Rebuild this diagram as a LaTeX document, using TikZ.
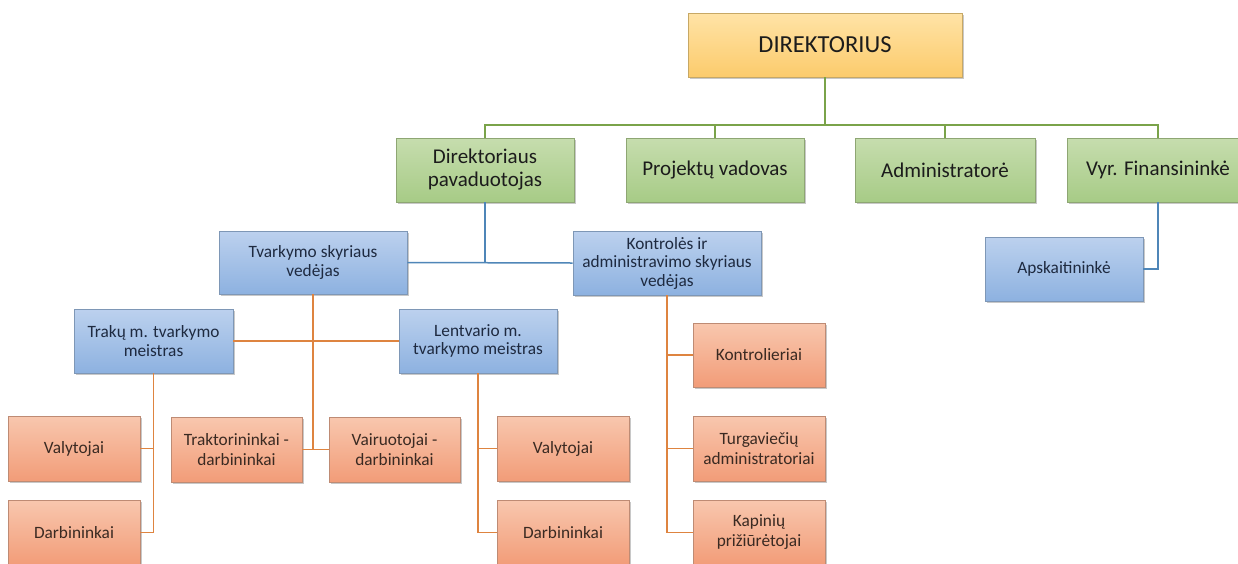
\documentclass[tikz,border=0pt]{standalone}
\usepackage{fontspec}
\setmainfont{Carlito}
\usetikzlibrary{shadows}
\definecolor{gline}{HTML}{7AA34A}
\definecolor{bline}{HTML}{4F86B8}
\definecolor{oline}{HTML}{DE8440}
\definecolor{ytop}{HTML}{FFE3A6}
\definecolor{ybot}{HTML}{FCCB6C}
\definecolor{yedge}{HTML}{C7A865}
\definecolor{gtop}{HTML}{C6DDAE}
\definecolor{gbot}{HTML}{A7CB86}
\definecolor{gedge}{HTML}{8EA673}
\definecolor{btop}{HTML}{BCD1EE}
\definecolor{bbot}{HTML}{8DB1E0}
\definecolor{bedge}{HTML}{7E97B6}
\definecolor{otop}{HTML}{F8C7AE}
\definecolor{obot}{HTML}{F29C78}
\definecolor{oedge}{HTML}{BE8B74}
\definecolor{txt}{HTML}{1C1C1C}
\definecolor{otxt}{HTML}{3A2A22}
\definecolor{btxt}{HTML}{1E2A40}
\tikzset{
  box/.style={rectangle, inner sep=2pt, align=center, line width=0.8pt,
    drop shadow={shadow xshift=1.5pt, shadow yshift=-1.5pt, opacity=.3, fill=black!70}},
  ybox/.style={box, draw=yedge, top color=ytop, bottom color=ybot, text=txt,
    font=\fontsize{24.5}{27}\selectfont},
  gbox/.style={box, draw=gedge, top color=gtop, bottom color=gbot, text=txt,
    font=\fontsize{21}{23}\selectfont, minimum height=64pt},
  bbox/.style={box, draw=bedge, top color=btop, bottom color=bbot, text=btxt,
    font=\fontsize{17.3}{18.5}\selectfont, minimum height=64pt},
  obox/.style={box, draw=oedge, top color=otop, bottom color=obot, text=otxt,
    font=\fontsize{17.3}{20}\selectfont, minimum height=65pt, minimum width=132pt},
  gl/.style={draw=gline, line width=1.5pt},
  bl/.style={draw=bline, line width=1.5pt},
  ol/.style={draw=oline, line width=1.5pt},
}
\begin{document}
\begin{tikzpicture}[x=1pt,y=-1pt]
\useasboundingbox (0,0) rectangle (1238,563);
\clip (0,0) rectangle (1238,563);
\fill[white] (0,0) rectangle (1238,563);

% nodes
\node[ybox, minimum width=274pt, minimum height=64pt] (dir) at (825,45) {DIREKTORIUS};
\node[gbox, minimum width=178pt] (dp) at (485,170) {Direktoriaus\\pavaduotojas};
\node[gbox, minimum width=178pt] (pv) at (715,170) {Projektų vadovas};
\node[gbox, minimum width=180pt] (adm) at (945,170) {Administratorė};
\node[gbox, minimum width=182pt] (vf) at (1158,170) {Vyr. Finansininkė};

\node[bbox, minimum width=188pt, minimum height=63pt] (tv) at (313,262.5) {Tvarkymo skyriaus\\vedėjas};
\node[bbox, minimum width=188pt] (kt) at (667,263) {Kontrolės ir\\administravimo skyriaus\\vedėjas};
\node[bbox, minimum width=158pt] (ap) at (1064,269) {Apskaitininkė};
\node[bbox, minimum width=159pt] (tr) at (153.5,341) {Trakų m. tvarkymo\\meistras};
\node[bbox, minimum width=158pt] (le) at (478,341) {Lentvario m.\\tvarkymo meistras};

\node[obox] (v1) at (74,448.5) {Valytojai};
\node[obox] (d1) at (74,532.5) {Darbininkai};
\node[obox, minimum width=131pt] (tk) at (236.5,449.5) {Traktorininkai -\\darbininkai};
\node[obox, minimum width=131pt] (vr) at (394.5,449.5) {Vairuotojai -\\darbininkai};
\node[obox] (v2) at (563,448.5) {Valytojai};
\node[obox] (d2) at (563,532.5) {Darbininkai};
\node[obox, minimum height=64pt] (ko) at (759,355) {Kontrolieriai};
\node[obox] (tu) at (759,448.5) {Turgaviečių\\administratoriai};
\node[obox] (ka) at (759,532.5) {Kapinių\\prižiūrėtojai};

% green connectors
\coordinate (gbus) at (825,125);
\draw[gl] (dir.south) -- (gbus);
\draw[gl] (dp.north) |- (gbus);
\draw[gl] (pv.north) |- (gbus);
\draw[gl] (adm.north) |- (gbus);
\draw[gl] (vf.north) |- (gbus);

% blue connectors
\draw[bl] (dp.south) -- (dp.south |- tv.east);
\draw[bl] (tv.east) -- (kt.west);
\draw[bl] (vf.south) |- (ap.east);

% orange connectors
\draw[ol] (tv.south) -- (tv.south |- tk.east);
\draw[ol] (tk.east) -- (vr.west);
\draw[ol] (tr.east) -- (le.west);
\draw[ol] (tr.south) |- (v1.east);
\draw[ol] (tr.south) |- (d1.east);
\draw[ol] (le.south) |- (v2.west);
\draw[ol] (le.south) |- (d2.west);
\draw[ol] (kt.south) |- (ko.west);
\draw[ol] (kt.south) |- (tu.west);
\draw[ol] (kt.south) |- (ka.west);
\end{tikzpicture}
\end{document}
